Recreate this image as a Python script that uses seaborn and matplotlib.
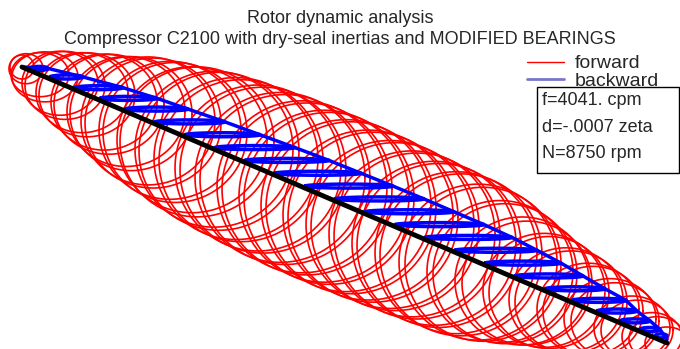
"""
Rotor dynamic analysis - damped mode shape orbits (compressor C2100)
"""
import numpy as np
import pandas as pd
import matplotlib.pyplot as plt
import seaborn as sns
from matplotlib.lines import Line2D
from matplotlib.patches import Rectangle

# -------------------------------
# Data: stations along the rotor (inches from the left end) and orbit sizes
# -------------------------------
fwd_z = [0, 0.4, 1.8, 2.3, 3.8, 4.3, 6.0, 6.5, 8.2, 8.7, 10.4, 10.9, 12.6, 13.1,
         14.8, 15.3, 17.0, 17.5, 19.2, 19.7, 21.4, 21.9, 23.6, 24.1, 25.8, 26.3,
         28.0, 28.5, 30.2, 30.7, 32.4, 32.9, 34.6, 35.1, 36.8, 37.3, 39.0, 39.5,
         41.2, 41.7, 43.4, 43.9, 45.6, 46.1, 47.8, 48.3, 50.0, 50.5, 52.2, 52.7,
         54.4, 54.9, 56.6, 57.1, 58.8, 59.3, 61.0, 61.5, 63.0, 63.5, 64.5]
# vertical orbit amplitude
fwd_b = [12, 15, 22, 25, 32, 34, 40, 42, 48, 50, 55, 57, 64, 65, 69, 70, 73, 75,
         78, 79, 81, 81, 83, 83, 85, 85, 86, 86, 86, 86, 86, 86, 85, 85, 84, 84,
         83, 83, 82, 82, 81, 81, 78, 77, 71, 70, 64, 62, 57, 56, 52, 51, 46, 45,
         40, 38, 32, 30, 24, 22, 16]
# horizontal orbit amplitude
fwd_a = [12, 17, 29, 33, 38, 40, 46, 48, 53, 55, 59, 61, 67, 68, 71, 72, 75, 77,
         79, 80, 82, 82, 83, 83, 85, 85, 85, 85, 85, 85, 85, 85, 85, 85, 84, 84,
         83, 83, 82, 82, 81, 81, 79, 78, 73, 72, 67, 65, 61, 60, 57, 56, 51, 50,
         46, 44, 38, 36, 30, 28, 22]

bwd_z = [0.8, 2.8, 5.3, 7.8, 10.3, 13.3, 16.3, 19.3, 22.3, 25.3, 28.3, 31.3,
         34.3, 37.3, 40.3, 43.3, 46.3, 49.3, 52.3, 55.0, 57.5, 59.8, 61.8, 63.3]
bwd_len = [18, 33, 48, 57, 63, 70, 75, 80, 84, 86, 88, 89, 89, 89, 87, 82, 76,
           68, 60, 54, 40, 30, 20, 12]

rotor_len = 64.5
axis_start = (22, 67)
axis_end = (667, 343)

title = "Rotor dynamic analysis\nCompressor C2100 with dry-seal inertias and MODIFIED BEARINGS"
info = "f=4041. cpm\nd=-.0007 zeta\nN=8750 rpm"


def axis_point(z):
    f = np.asarray(z, dtype=float) / rotor_len
    return (axis_start[0] + f * (axis_end[0] - axis_start[0]),
            axis_start[1] + f * (axis_end[1] - axis_start[1]))


theta = np.linspace(0, 2 * np.pi, 90)

# forward orbits
rows = []
for i, (z, a, b) in enumerate(zip(fwd_z, fwd_a, fwd_b)):
    xc, yc = axis_point(z)
    rows.append(pd.DataFrame({"x": xc + a * np.cos(theta),
                              "y": yc - b * np.sin(theta), "orbit": i}))
fwd_df = pd.concat(rows, ignore_index=True)

# backward orbits: almost flat, horizontal
rows = []
tips_x, tips_y = [axis_start[0]], [axis_start[1]]
for i, (z, L) in enumerate(zip(bwd_z, bwd_len)):
    xc, yc = axis_point(z)
    rows.append(pd.DataFrame({"x": xc + L / 2 - L / 2 * np.cos(theta),
                              "y": yc - 2 + 2 * np.sin(theta), "orbit": i}))
    tips_x.append(xc + L)
    tips_y.append(yc - 2)
tips_x.append(axis_end[0])
tips_y.append(axis_end[1])
bwd_df = pd.concat(rows, ignore_index=True)
tip_df = pd.DataFrame({"x": tips_x, "y": tips_y})

ax_x, ax_y = axis_point([0, rotor_len])
axis_df = pd.DataFrame({"x": ax_x, "y": ax_y})

# -------------------------------
# Plot
# -------------------------------
sns.set_theme(style="white")
plt.rcParams["font.family"] = ["Liberation Sans", "DejaVu Sans"]

fig = plt.figure(figsize=(6.8, 3.49), dpi=100)
ax = fig.add_axes([0, 0, 1, 1])

sns.lineplot(data=fwd_df, x="x", y="y", units="orbit", estimator=None, sort=False,
             color="#ff0000", lw=1.2, ax=ax)
sns.lineplot(data=bwd_df, x="x", y="y", units="orbit", estimator=None, sort=False,
             color="#0000ff", lw=2.5, ax=ax)
sns.lineplot(data=tip_df, x="x", y="y", sort=False, color="#0000ff", lw=2.5, ax=ax)
sns.lineplot(data=axis_df, x="x", y="y", sort=False, color="black", lw=3.5, ax=ax)

ax.set_xlim(0, 680)
ax.set_ylim(349, 0)
ax.axis("off")

fig.text(0.5, 1 - 10 / 349, title, ha="center", va="top", fontsize=13, linespacing=1.3)

handles = [Line2D([], [], color="#ff0000", lw=1),
           Line2D([], [], color="#7878c8", lw=2)]
fig.legend(handles, ["forward", "backward"], loc="upper right",
           bbox_to_anchor=(0.983, 1 - 45 / 349), frameon=False, fontsize=14,
           labelspacing=0.0, handlelength=1.9, handletextpad=0.55, borderpad=0)

ax.add_patch(Rectangle((537, 87), 142, 86, fc="white", ec="black", lw=1, zorder=5))
ax.text(542, 92, info, ha="left", va="top", fontsize=13, linespacing=1.75, zorder=6)

fig.savefig("out.png", dpi=100)
